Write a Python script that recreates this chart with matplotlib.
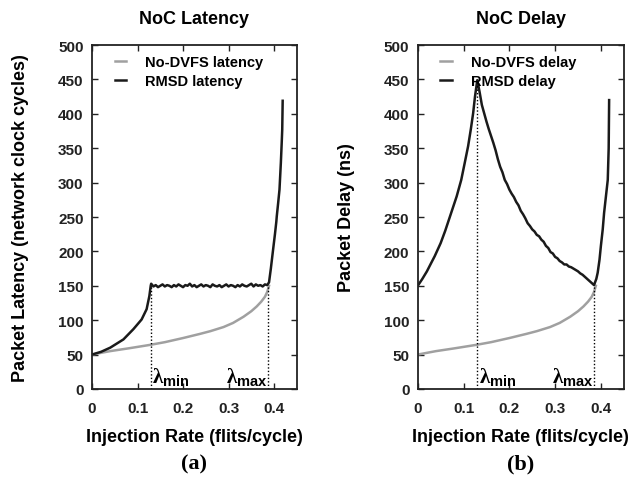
import numpy as np
import matplotlib
matplotlib.use('Agg')
import matplotlib.pyplot as plt

plt.rcParams['font.family'] = ['Liberation Sans', 'DejaVu Sans']
plt.rcParams['font.weight'] = 'bold'
plt.rcParams['mathtext.fontset'] = 'custom'
plt.rcParams['mathtext.rm'] = 'Liberation Serif'
plt.rcParams['mathtext.bf'] = 'Liberation Sans:bold'

# No-DVFS curve (same shape in both panels)
nodvfs_x = [0, 0.04, 0.08, 0.127, 0.16, 0.2, 0.237, 0.26, 0.289, 0.31, 0.333, 0.35, 0.362, 0.372, 0.38, 0.385, 0.389]
nodvfs_y = [50, 55, 59, 64, 68, 74, 80, 84, 90, 96, 105, 113, 120, 127, 134, 141, 150]

# RMSD latency
lat_rise_x = [0, 0.02, 0.04, 0.069, 0.091, 0.109, 0.120, 0.126, 0.129]
lat_rise_y = [50, 54, 60, 72, 87, 101, 116, 135, 150]
lat_flat_x = np.round(np.arange(0.13, 0.3851, 0.005), 3)
lat_flat_y = [153, 149, 151, 148, 150, 152, 149, 151, 150, 148, 151, 149, 152, 150, 148, 151,
              150, 153, 149, 151, 148, 150, 152, 149, 151, 150, 148, 152, 150, 149, 151, 148,
              150, 152, 149, 151, 150, 148, 151, 149, 152, 150, 149, 151, 153, 149, 152, 150,
              151, 149, 152, 151]
lat_up_x = [0.389, 0.393, 0.398, 0.402, 0.405, 0.406, 0.409, 0.412, 0.415, 0.417, 0.418, 0.419]
lat_up_y = [155, 175, 203, 225, 243, 251, 270, 290, 329, 360, 377, 419]

# RMSD delay
del_rise_x = [0, 0.01, 0.02, 0.03, 0.037, 0.05, 0.06, 0.073, 0.085, 0.095, 0.103, 0.110, 0.116, 0.121, 0.125]
del_rise_y = [150, 160, 171, 184, 193, 212, 230, 256, 280, 304, 330, 353, 378, 401, 425]
del_fall_x = np.round(np.arange(0.13, 0.3851, 0.005), 3)
del_fall_y = [449, 432, 413, 401, 389, 378, 368, 358, 347, 334, 323, 315, 304, 298, 290, 284,
              279, 272, 267, 259, 254, 248, 241, 237, 232, 229, 224, 222, 217, 214, 208, 205,
              199, 197, 192, 190, 186, 184, 181, 181, 178, 177, 175, 173, 171, 168, 166, 163,
              160, 157, 154, 151]
del_up_x = [0.390, 0.393, 0.397, 0.400, 0.404, 0.407, 0.411, 0.415, 0.417, 0.418]
del_up_y = [160, 169, 188, 208, 232, 256, 280, 304, 350, 420]

lam_min = [0.129, 0.13]
lam_max = [0.3875, 0.386]
lam_min_top = [150, 447]
lam_max_top = [150, 150]

titles = ['NoC Latency', 'NoC Delay']
ylabels = ['Packet Latency (network clock cycles)', 'Packet Delay (ns)']
names = ['latency', 'delay']
letters = ['(a)', '(b)']

gray = '#a0a0a0'
dark = '#1a1a1a'

fig = plt.figure(figsize=(6.32, 4.85), dpi=100)
ax1 = fig.add_axes([0.1456, 0.196, 0.324, 0.709])
ax2 = fig.add_axes([0.661, 0.196, 0.326, 0.709])

for i, ax in enumerate([ax1, ax2]):
    ax.plot(nodvfs_x, nodvfs_y, color=gray, lw=1.8, label='No-DVFS ' + names[i])
    if i == 0:
        rx = list(lat_rise_x) + list(lat_flat_x) + list(lat_up_x)
        ry = list(lat_rise_y) + list(lat_flat_y) + list(lat_up_y)
    else:
        rx = list(del_rise_x) + list(del_fall_x) + list(del_up_x)
        ry = list(del_rise_y) + list(del_fall_y) + list(del_up_y)
    ax.plot(rx, ry, color=dark, lw=1.8, label='RMSD ' + names[i])

    ax.plot([lam_min[i], lam_min[i]], [0, lam_min_top[i]], color='black', lw=1, ls=(0, (1, 1.5)))
    ax.plot([lam_max[i], lam_max[i]], [0, lam_max_top[i]], color='black', lw=1, ls=(0, (1, 1.5)))
    ax.text(lam_min[i] + 0.003, 1, r'$\mathrm{\lambda}_{\mathbf{min}}$', fontsize=15, ha='left', va='bottom')
    ax.text(lam_max[i] - 0.001, 1, r'$\mathrm{\lambda}_{\mathbf{max}}$', fontsize=15, ha='right', va='bottom')

    ax.set_xlim(0, 0.45)
    ax.set_ylim(0, 500)
    ax.set_xticks([0, 0.1, 0.2, 0.3, 0.4])
    ax.set_xticklabels(['0', '0.1', '0.2', '0.3', '0.4'])
    ax.set_yticks(range(0, 501, 50))
    ax.tick_params(direction='in', length=4, width=1, top=True, right=True,
                   labelsize=11, colors='#222222')
    ax.tick_params(axis='x', pad=9)
    ax.tick_params(axis='y', pad=6)
    for sp in ax.spines.values():
        sp.set_linewidth(1.3)
        sp.set_color('#222222')
    ax.set_title(titles[i], fontsize=13, fontweight='bold', pad=16)
    ax.set_xlabel('Injection Rate (flits/cycle)', fontsize=13, fontweight='bold', labelpad=9)
    ax.set_ylabel(ylabels[i], fontsize=13, fontweight='bold', labelpad=21)
    ax.legend(loc='upper left', frameon=False, fontsize=10.5, handlelength=0.8,
              handletextpad=1.3, borderaxespad=0.3, labelspacing=0.35,
              bbox_to_anchor=(0.06, 1.0))
    ax.text(0.5, -0.217, letters[i], transform=ax.transAxes, ha='center', va='center',
            fontsize=16, fontweight='bold', family='Liberation Serif')

fig.savefig('out.png', dpi=100)
